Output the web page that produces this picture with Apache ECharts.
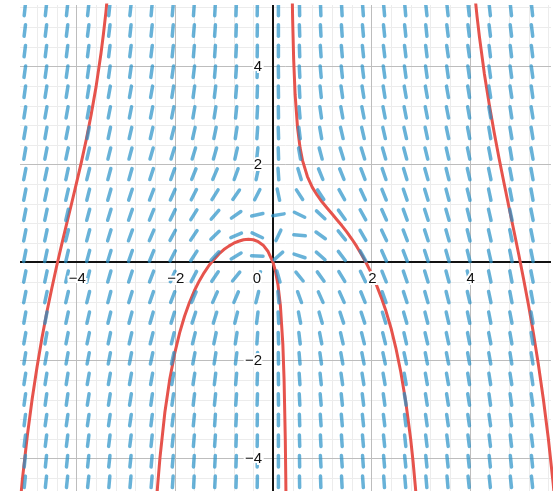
<!DOCTYPE html>
<html>
<head>
<meta charset="utf-8">
<script src="https://cdn.jsdelivr.net/npm/echarts@6/dist/echarts.min.js"></script>
<style>
  html, body { margin: 0; padding: 0; background: #ffffff; }
  #chart { width: 554px; height: 491px; }
</style>
</head>
<body>
<div id="chart"></div>
<script>
// Slope field of x·y' = y − x² − y² with one of its solution curves.

// Slope-field sample positions (columns along x, rows along y, top row first)
const fieldX = [-5.05, -4.62, -4.19, -3.76, -3.33, -2.90, -2.47, -2.04, -1.61, -1.18, -0.75, -0.32,
                0.11, 0.54, 0.97, 1.40, 1.83, 2.26, 2.69, 3.12, 3.55, 3.98, 4.41, 4.84, 5.27];
const fieldY = [5.15, 4.73, 4.31, 3.89, 3.48, 3.06, 2.64, 2.22, 1.80, 1.38, 0.97, 0.55,
                0.13, -0.29, -0.71, -1.13, -1.55, -1.96, -2.38, -2.80, -3.22, -3.64, -4.06, -4.48];

// Dash direction in degrees, one array per column (same order as fieldY)
const dashAngles = [
  [84, 83, 83, 82, 82, 81, 80, 80, 79, 79, 79, 79, 79, 79, 79, 80, 80, 81, 81, 82, 83, 83, 84, 84],
  [84, 83, 83, 82, 81, 80, 80, 79, 78, 78, 78, 78, 78, 78, 78, 79, 80, 80, 81, 82, 82, 83, 84, 84],
  [84, 83, 83, 82, 81, 80, 79, 78, 78, 77, 77, 76, 77, 77, 77, 78, 79, 80, 81, 82, 82, 83, 84, 84],
  [84, 83, 83, 82, 81, 80, 79, 77, 76, 76, 75, 75, 75, 76, 76, 77, 78, 79, 80, 81, 82, 83, 84, 84],
  [84, 83, 83, 82, 80, 79, 78, 76, 75, 74, 73, 73, 73, 74, 75, 76, 78, 79, 80, 81, 82, 83, 84, 85],
  [84, 84, 83, 82, 80, 79, 77, 75, 74, 72, 71, 70, 71, 72, 73, 75, 77, 79, 80, 81, 82, 83, 84, 85],
  [85, 84, 83, 82, 80, 79, 77, 74, 72, 69, 68, 67, 68, 69, 71, 74, 76, 78, 80, 82, 83, 84, 85, 85],
  [85, 85, 84, 82, 81, 79, 76, 73, 70, 66, 64, 62, 63, 66, 69, 73, 76, 78, 80, 82, 83, 84, 85, 86],
  [86, 85, 85, 83, 82, 80, 77, 73, 68, 63, 58, 56, 57, 62, 67, 72, 76, 79, 81, 83, 84, 85, 86, 87],
  [87, 86, 86, 85, 83, 81, 78, 74, 67, 58, 49, 44, 47, 56, 66, 73, 78, 81, 83, 84, 86, 86, 87, 87],
  [88, 88, 87, 86, 85, 84, 81, 77, 70, 55, 35, 23, 31, 51, 67, 76, 81, 83, 85, 86, 87, 88, 88, 88],
  [89, 89, 89, 88, 88, 87, 86, 84, 78, 63, 13, -25, -2, 56, 76, 83, 86, 87, 88, 88, 89, 89, 89, 89],
  [-90, -90, -90, -89, -89, -89, -88, -88, -86, -78, 9, 65, 42, -74, -85, -87, -88, -89, -89, -89, -90, -90, -90, -90],
  [-89, -88, -88, -87, -87, -85, -83, -80, -73, -57, -26, -5, -18, -51, -70, -79, -83, -85, -86, -87, -88, -88, -89, -89],
  [-88, -87, -86, -85, -84, -82, -80, -75, -68, -57, -43, -36, -41, -54, -66, -74, -79, -82, -84, -85, -86, -87, -87, -88],
  [-87, -86, -85, -84, -82, -80, -77, -73, -68, -61, -54, -51, -53, -59, -66, -72, -77, -80, -82, -84, -85, -86, -86, -87],
  [-86, -85, -84, -83, -81, -79, -77, -73, -69, -65, -61, -60, -61, -64, -68, -72, -76, -79, -81, -83, -84, -85, -86, -86],
  [-85, -84, -83, -82, -81, -79, -77, -74, -71, -68, -66, -65, -66, -68, -70, -73, -76, -78, -80, -82, -83, -84, -85, -86],
  [-85, -84, -83, -82, -80, -79, -77, -75, -73, -71, -70, -69, -69, -71, -72, -74, -77, -78, -80, -81, -83, -84, -84, -85],
  [-84, -84, -83, -82, -80, -79, -78, -76, -74, -73, -72, -72, -72, -73, -74, -76, -77, -79, -80, -81, -82, -83, -84, -85],
  [-84, -83, -82, -82, -80, -79, -78, -77, -76, -75, -74, -74, -74, -75, -76, -77, -78, -79, -80, -81, -82, -83, -84, -85],
  [-84, -83, -82, -82, -81, -80, -79, -78, -77, -76, -76, -76, -76, -76, -77, -78, -79, -80, -81, -81, -82, -83, -84, -84],
  [-84, -83, -83, -82, -81, -80, -80, -79, -78, -78, -77, -77, -77, -78, -78, -79, -79, -80, -81, -82, -82, -83, -84, -84],
  [-84, -83, -83, -82, -81, -81, -80, -80, -79, -79, -78, -78, -78, -79, -79, -79, -80, -81, -81, -82, -83, -83, -84, -84],
  [-84, -83, -83, -82, -82, -81, -81, -80, -80, -80, -79, -79, -79, -79, -80, -80, -81, -81, -82, -82, -83, -83, -84, -84]
];

// Solution curve, one array per branch between vertical asymptotes
const curveLeft = [[-5.2, -5.54], [-5.1, -4.44], [-5.0, -3.55], [-4.9, -2.79], [-4.8, -2.13], [-4.7, -1.54],
  [-4.6, -1.01], [-4.5, -0.53], [-4.4, -0.07], [-4.3, 0.36], [-4.2, 0.78], [-4.1, 1.19], [-4.0, 1.61],
  [-3.9, 2.04], [-3.8, 2.50], [-3.7, 3.01], [-3.6, 3.58], [-3.5, 4.26], [-3.45, 4.66], [-3.4, 5.10],
  [-3.35, 5.63], [-3.3, 6.17]];
const curveCentre = [[-2.45, -6.26], [-2.4, -5.33], [-2.35, -4.59], [-2.3, -3.99], [-2.2, -3.06], [-2.1, -2.38],
  [-2.0, -1.86], [-1.9, -1.44], [-1.8, -1.10], [-1.7, -0.82], [-1.6, -0.58], [-1.5, -0.38], [-1.4, -0.21],
  [-1.3, -0.06], [-1.2, 0.06], [-1.1, 0.17], [-1.0, 0.26], [-0.9, 0.33], [-0.8, 0.39], [-0.7, 0.43],
  [-0.6, 0.46], [-0.5, 0.47], [-0.4, 0.46], [-0.3, 0.42], [-0.2, 0.35], [-0.1, 0.22], [0, 0],
  [0.05, -0.18], [0.1, -0.45], [0.15, -0.88], [0.2, -1.67], [0.225, -2.38], [0.25, -3.61], [0.26, -4.39],
  [0.27, -5.48]];
const curveRight = [[0.38, 6.24], [0.39, 5.50], [0.40, 4.94], [0.42, 4.15], [0.45, 3.42], [0.5, 2.74],
  [0.55, 2.34], [0.6, 2.08], [0.7, 1.75], [0.8, 1.53], [0.9, 1.37], [1.0, 1.23], [1.1, 1.11], [1.2, 0.99],
  [1.3, 0.87], [1.4, 0.75], [1.5, 0.62], [1.6, 0.48], [1.7, 0.33], [1.8, 0.16], [1.9, -0.02], [2.0, -0.22],
  [2.1, -0.45], [2.2, -0.71], [2.3, -1.00], [2.4, -1.34], [2.5, -1.75], [2.6, -2.24], [2.7, -2.84],
  [2.8, -3.60], [2.85, -4.07], [2.9, -4.62], [2.95, -5.26], [3.0, -6.04]];
const curveFarRight = [[4.05, 6.06], [4.1, 5.52], [4.15, 5.03], [4.2, 4.60], [4.3, 3.85], [4.4, 3.22],
  [4.5, 2.65], [4.6, 2.12], [4.7, 1.62], [4.8, 1.13], [4.9, 0.65], [5.0, 0.16], [5.1, -0.35], [5.2, -0.88],
  [5.3, -1.46], [5.4, -2.09], [5.5, -2.79], [5.6, -3.58], [5.7, -4.51], [5.8, -5.62]];

// Grid lines and tick labels
const minorGridX = [-4.8, -4.4, -4.0, -3.6, -3.2, -2.8, -2.4, -2.0, -1.6, -1.2, -0.8, -0.4, 0,
                    0.4, 0.8, 1.2, 1.6, 2.0, 2.4, 2.8, 3.2, 3.6, 4.0, 4.4, 4.8, 5.2, 5.6];
const minorGridY = [-4.4, -4.0, -3.6, -3.2, -2.8, -2.4, -2.0, -1.6, -1.2, -0.8, -0.4, 0,
                    0.4, 0.8, 1.2, 1.6, 2.0, 2.4, 2.8, 3.2, 3.6, 4.0, 4.4, 4.8, 5.2];
const majorGridX = [-4, -2, 2, 4];
const majorGridY = [-4, -2, 2, 4];
const xTickValues = [-4, -2, 0, 2, 4];
const xTickLabels = ['\u22124', '\u22122', '0', '2', '4'];
const yTickValues = [4, 2, -2, -4];
const yTickLabels = ['4', '2', '\u22122', '\u22124'];

const X_RANGE = [-5.1475, 5.656];
const Y_RANGE = [-4.667, 5.251];

const DASH_COLOR = 'rgba(40, 145, 200, 0.7)';
const CURVE_COLOR = '#e6534c';
const DASH_HALF = 5.75;
const LABEL_FONT = '15px "Liberation Sans", Arial, sans-serif';

const chart = echarts.init(document.getElementById('chart'), null, { renderer: 'canvas' });

function verticalLines(color, width) {
  return function (params, api) {
    const cs = params.coordSys;
    const x = Math.round(api.coord([api.value(0), 0])[0]) + (width % 2 ? 0.5 : 0);
    return {
      type: 'line',
      shape: { x1: x, y1: cs.y, x2: x, y2: cs.y + cs.height },
      style: { stroke: color, lineWidth: width }
    };
  };
}
function horizontalLines(color, width) {
  return function (params, api) {
    const cs = params.coordSys;
    const y = Math.round(api.coord([0, api.value(1)])[1]) + (width % 2 ? 0.5 : 0);
    return {
      type: 'line',
      shape: { x1: cs.x, y1: y, x2: cs.x + cs.width, y2: y },
      style: { stroke: color, lineWidth: width }
    };
  };
}

const dashData = [];
fieldX.forEach((x, i) => {
  fieldY.forEach((y, j) => {
    dashData.push([x, y, dashAngles[i][j]]);
  });
});

const curveSeries = [curveLeft, curveCentre, curveRight, curveFarRight].map(pts => ({
  type: 'line',
  data: pts,
  showSymbol: false,
  smooth: false,
  clip: true,
  z: 4,
  lineStyle: { color: CURVE_COLOR, width: 3, cap: 'round', join: 'round' },
  itemStyle: { color: CURVE_COLOR },
  silent: true
}));

const labelData = [];
xTickValues.forEach((v, k) => labelData.push([v, 0, 'x', xTickLabels[k]]));
yTickValues.forEach((v, k) => labelData.push([0, v, 'y', yTickLabels[k]]));

const option = {
  animation: false,
  backgroundColor: '#ffffff',
  grid: { left: 20, right: 3, top: 5, bottom: 0, containLabel: false },
  xAxis: {
    type: 'value', min: X_RANGE[0], max: X_RANGE[1],
    axisLine: { show: false }, axisTick: { show: false }, axisLabel: { show: false }, splitLine: { show: false }
  },
  yAxis: {
    type: 'value', min: Y_RANGE[0], max: Y_RANGE[1],
    axisLine: { show: false }, axisTick: { show: false }, axisLabel: { show: false }, splitLine: { show: false }
  },
  series: [
    { type: 'custom', z: 1, silent: true, data: minorGridX.map(v => [v, 0]), renderItem: verticalLines('#ececec', 1) },
    { type: 'custom', z: 1, silent: true, data: minorGridY.map(v => [0, v]), renderItem: horizontalLines('#ececec', 1) },
    { type: 'custom', z: 2, silent: true, data: majorGridX.map(v => [v, 0]), renderItem: verticalLines('#bdbdbd', 1) },
    { type: 'custom', z: 2, silent: true, data: majorGridY.map(v => [0, v]), renderItem: horizontalLines('#bdbdbd', 1) },
    { type: 'custom', z: 3, silent: true, data: [[0, 0]], renderItem: verticalLines('#111111', 2) },
    { type: 'custom', z: 3, silent: true, data: [[0, 0]], renderItem: horizontalLines('#111111', 2) },
    ...curveSeries,
    {
      type: 'custom', z: 5, silent: true, clip: true, data: dashData,
      renderItem(params, api) {
        const c = api.coord([api.value(0), api.value(1)]);
        const a = api.value(2) * Math.PI / 180;
        const dx = Math.cos(a) * DASH_HALF;
        const dy = Math.sin(a) * DASH_HALF;
        return {
          type: 'line',
          shape: { x1: c[0] - dx, y1: c[1] + dy, x2: c[0] + dx, y2: c[1] - dy },
          style: { stroke: DASH_COLOR, lineWidth: 3.5, lineCap: 'round' }
        };
      }
    },
    {
      type: 'custom', z: 6, silent: true, clip: false,
      dimensions: ['x', 'y', 'kind', 'text'],
      data: labelData,
      renderItem(params, api) {
        const item = labelData[params.dataIndex];
        const c = api.coord([item[0], item[1]]);
        let x, y, align;
        if (item[2] === 'x') {
          align = 'center';
          x = item[0] === 0 ? c[0] - 16 : c[0] + 1;
          y = c[1] + 17;
        } else {
          align = 'right';
          x = c[0] - 11;
          y = c[1] + 1;
        }
        return {
          type: 'text',
          style: {
            text: item[3], x: x, y: y, align: align, verticalAlign: 'middle',
            font: LABEL_FONT, fill: '#111111', stroke: '#ffffff', lineWidth: 4
          }
        };
      }
    }
  ]
};

chart.setOption(option);
</script>
</body>
</html>
